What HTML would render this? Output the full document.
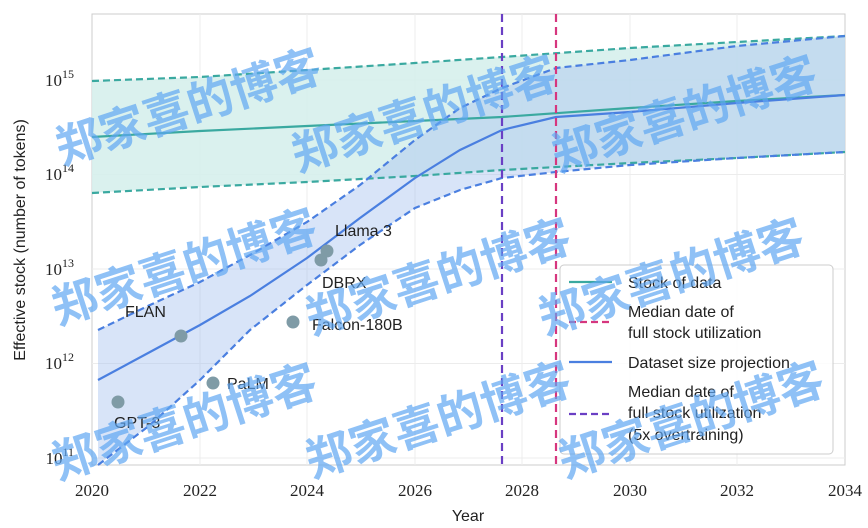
<!DOCTYPE html>
<html><head><meta charset="utf-8"><style>
body{margin:0;background:#fff;}
svg{display:block;font-family:"Liberation Serif",serif;}
.s{font-family:"Liberation Sans",sans-serif;}
.wm{font-family:"Noto Sans CJK SC",sans-serif;font-weight:bold;font-size:46px;fill:#5fa6f2;opacity:0.7;}
</style></head><body>
<svg width="868" height="528" viewBox="0 0 868 528">
<rect x="92" y="14" width="753" height="451" fill="#fff" stroke="#ccc" stroke-width="1"/>
<g stroke="#ececec" stroke-width="1">
<line x1="200" y1="14" x2="200" y2="465"/><line x1="307" y1="14" x2="307" y2="465"/><line x1="415" y1="14" x2="415" y2="465"/><line x1="522" y1="14" x2="522" y2="465"/><line x1="630" y1="14" x2="630" y2="465"/><line x1="737" y1="14" x2="737" y2="465"/>
<line x1="92" y1="80" x2="845" y2="80"/><line x1="92" y1="174.5" x2="845" y2="174.5"/><line x1="92" y1="269" x2="845" y2="269"/><line x1="92" y1="363.5" x2="845" y2="363.5"/><line x1="92" y1="458" x2="845" y2="458"/>
</g>
<path d="M92,81 L140,80 L200,77 L250,73 L307,70 L360,66 L415,63 L502,57 L630,48 L737,42 L845,36 L845,152 L737,158 L630,163 L502,170 L415,176 L307,182 L200,187 L150,189 L92,193 Z" fill="#d6efec" opacity="0.9"/>
<path d="M98,330 L150,305 L200,282 L250,255 L307,222 L360,185 L415,140 L460,108 L502,88 L556,68 L630,60 L737,46 L845,36 L845,152 L737,158 L630,165 L556,172 L502,178 L460,190 L415,208 L360,245 L307,285 L250,330 L200,380 L150,425 L98,465 Z" fill="#a9c4f0" opacity="0.45"/>
<g fill="none" stroke-width="2.2">
<path d="M92,81 L200,77 L307,70 L415,63 L502,57 L630,48 L737,42 L845,36" stroke="#3aa9a0" stroke-dasharray="7,4"/>
<path d="M92,193 L200,187 L307,182 L415,176 L502,170 L630,163 L737,158 L845,152" stroke="#3aa9a0" stroke-dasharray="7,4"/>
<path d="M92,137 L200,131 L307,126 L415,121 L502,117 L630,108 L737,101 L845,95" stroke="#3aa9a0"/>
<path d="M98,330 L150,305 L200,282 L250,255 L307,222 L360,185 L415,140 L460,108 L502,88 L556,68 L630,60 L737,46 L845,36" stroke="#4a7fe0" stroke-dasharray="7,4"/>
<path d="M98,465 L150,425 L200,380 L250,330 L307,285 L360,245 L415,208 L460,190 L502,178 L556,172 L630,165 L737,158 L845,152" stroke="#4a7fe0" stroke-dasharray="7,4"/>
<path d="M98,380 L150,352 L200,325 L250,296 L307,258 L360,218 L415,178 L460,150 L502,130 L556,117 L630,112 L737,103 L845,95" stroke="#4a7fe0"/>
<line x1="502" y1="14" x2="502" y2="465" stroke="#6a3fc4" stroke-dasharray="8,5"/>
<line x1="556" y1="14" x2="556" y2="465" stroke="#d6367e" stroke-dasharray="8,5"/>
</g>
<g fill="#7f9ba6"><circle cx="118" cy="402" r="6.5"/><circle cx="181" cy="336" r="6.5"/><circle cx="213" cy="383" r="6.5"/><circle cx="293" cy="322" r="6.5"/><circle cx="321" cy="260" r="6.5"/><circle cx="327" cy="251" r="6.5"/></g>
<g class="s" font-size="16" fill="#222">
<text x="114" y="428">GPT-3</text><text x="125" y="317">FLAN</text><text x="227" y="389">PaLM</text><text x="312" y="330">Falcon-180B</text><text x="322" y="288">DBRX</text><text x="335" y="236">Llama 3</text>
</g>
<rect x="560" y="265" width="273" height="189" rx="4" fill="#fff" fill-opacity="0.85" stroke="#ccc"/>
<g stroke-width="2.2"><line x1="569" y1="282" x2="612" y2="282" stroke="#3aa9a0"/><line x1="569" y1="322" x2="612" y2="322" stroke="#d6367e" stroke-dasharray="7,4"/><line x1="569" y1="362" x2="612" y2="362" stroke="#4a7fe0"/><line x1="569" y1="414" x2="612" y2="414" stroke="#6a3fc4" stroke-dasharray="7,4"/></g>
<g class="s" font-size="16" fill="#222">
<text x="628" y="288">Stock of data</text><text x="628" y="317">Median date of</text><text x="628" y="338">full stock utilization</text><text x="628" y="368">Dataset size projection</text><text x="628" y="397">Median date of</text><text x="628" y="418">full stock utilization</text><text x="628" y="440">(5x overtraining)</text>
</g>
<g font-size="17" fill="#222" text-anchor="middle">
<text x="92" y="496">2020</text><text x="200" y="496">2022</text><text x="307" y="496">2024</text><text x="415" y="496">2026</text><text x="522" y="496">2028</text><text x="630" y="496">2030</text><text x="737" y="496">2032</text><text x="845" y="496">2034</text>
</g>
<g font-size="17" fill="#222" text-anchor="end">
<text x="74" y="86">10<tspan font-size="12" dy="-8">15</tspan></text>
<text x="74" y="180">10<tspan font-size="12" dy="-8">14</tspan></text>
<text x="74" y="275">10<tspan font-size="12" dy="-8">13</tspan></text>
<text x="74" y="369">10<tspan font-size="12" dy="-8">12</tspan></text>
<text x="74" y="464">10<tspan font-size="12" dy="-8">11</tspan></text>
</g>
<text class="s" x="468" y="521" font-size="16" text-anchor="middle" fill="#222">Year</text>
<text class="s" transform="translate(25,240) rotate(-90)" font-size="16" text-anchor="middle" fill="#222">Effective stock (number of tokens)</text>
<g class="wm">
<text transform="translate(62,165) rotate(-18)">郑家喜的博客</text>
<text transform="translate(298,172) rotate(-18)">郑家喜的博客</text>
<text transform="translate(558,172) rotate(-18)">郑家喜的博客</text>
<text transform="translate(58,325) rotate(-18)">郑家喜的博客</text>
<text transform="translate(312,335) rotate(-18)">郑家喜的博客</text>
<text transform="translate(545,335) rotate(-18)">郑家喜的博客</text>
<text transform="translate(58,480) rotate(-18)">郑家喜的博客</text>
<text transform="translate(312,478) rotate(-18)">郑家喜的博客</text>
<text transform="translate(565,478) rotate(-18)">郑家喜的博客</text>
</g>
</svg>
</body></html>
